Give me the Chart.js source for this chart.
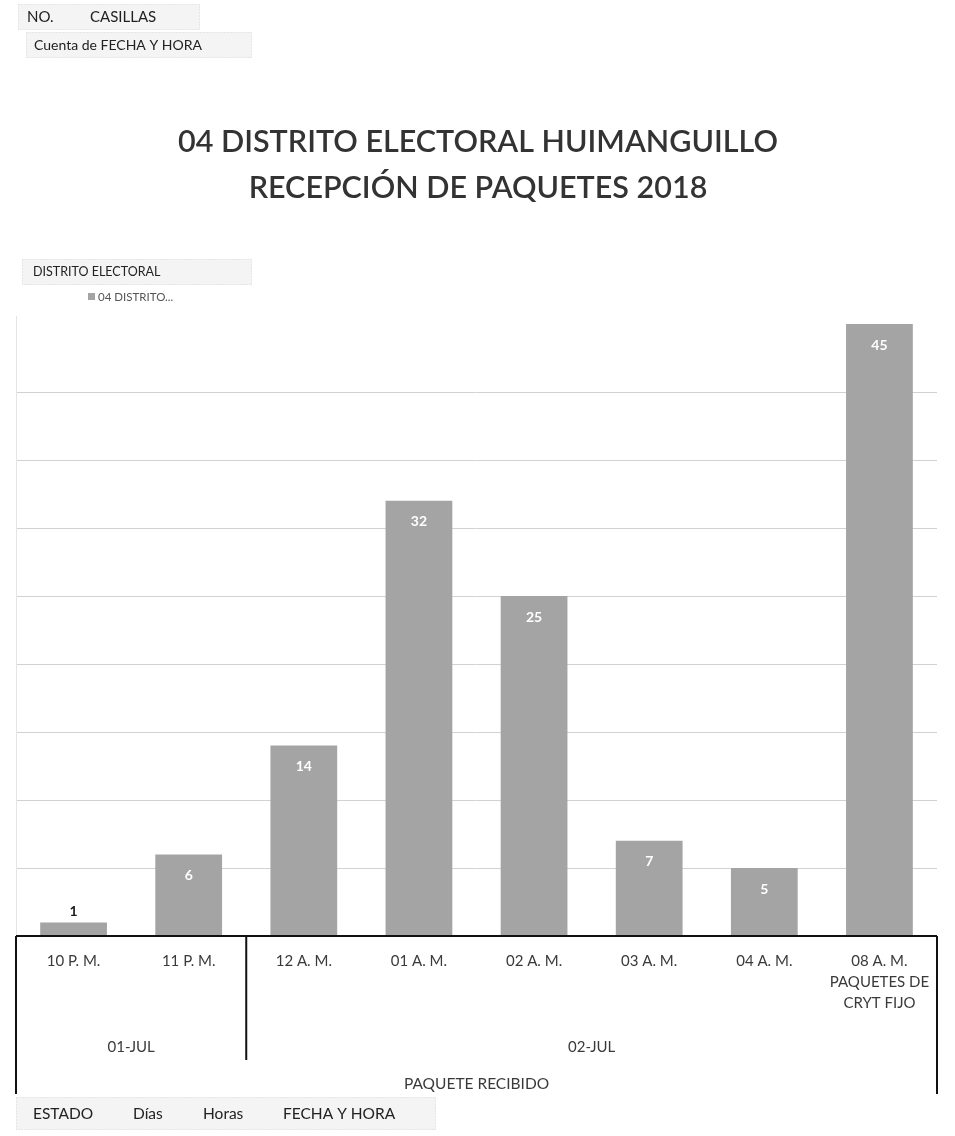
<!DOCTYPE html>
<html><head><meta charset="utf-8">
<script src="https://cdn.jsdelivr.net/npm/chart.js@4"></script>
<style>html,body{margin:0;padding:0;background:#fff}canvas{display:block}</style>
</head><body>
<canvas id="c" width="955" height="1136"></canvas>
<script>
// ---- data ----
const horas = ['10 P. M.', '11 P. M.', '12 A. M.', '01 A. M.', '02 A. M.', '03 A. M.', '04 A. M.', ['08 A. M.', 'PAQUETES DE', 'CRYT FIJO']];
const dias = ['01-JUL', '02-JUL'];
const diasSpan = [2, 6];
const casillas = [1, 6, 14, 32, 25, 7, 5, 45];
const serieNombre = '04 DISTRITO...';
const titulo = ['04 DISTRITO ELECTORAL HUIMANGUILLO', 'RECEPCIÓN DE PAQUETES 2018'];
const ejeXTitulo = 'PAQUETE RECIBIDO';
const filtroArriba = ['NO.', 'CASILLAS'];
const valorCampo = 'Cuenta de FECHA Y HORA';
const leyendaCampo = 'DISTRITO ELECTORAL';
const camposEje = ['ESTADO', 'Días', 'Horas', 'FECHA Y HORA'];

const FONT = 'Lato, "Open Sans", sans-serif';
const TXT = '#3a3a3a';
const BAR = '#a4a4a4';

function button(ctx, x, y, w, h) {
  ctx.save();
  ctx.fillStyle = '#f4f4f4';
  ctx.fillRect(x, y, w, h);
  ctx.strokeStyle = '#d8d8d8';
  ctx.setLineDash([1, 2]);
  ctx.lineWidth = 1;
  ctx.strokeRect(x + 0.5, y + 0.5, w - 1, h - 1);
  ctx.restore();
}

const decor = {
  id: 'decor',
  beforeDraw(chart) {
    const ctx = chart.ctx;
    ctx.save();
    button(ctx, 18, 4, 182, 26);
    button(ctx, 26, 32, 226, 26);
    button(ctx, 22, 259, 230, 26);
    button(ctx, 16, 1097, 420, 33);
    ctx.restore();
  },
  afterDatasetsDraw(chart) {
    const ctx = chart.ctx;
    const x = chart.scales.x, ca = chart.chartArea;
    const meta = chart.getDatasetMeta(0);
    ctx.save();
    // data labels
    ctx.textAlign = 'center';
    ctx.textBaseline = 'middle';
    meta.data.forEach((bar, i) => {
      const v = casillas[i];
      const h = bar.base - bar.y;
      ctx.font = 'bold 14px ' + FONT;
      if (h < 26) {
        ctx.fillStyle = '#1a1a1a';
        ctx.fillText(String(v), bar.x, bar.y - 11);
      } else {
        ctx.fillStyle = '#ffffff';
        ctx.fillText(String(v), bar.x, bar.y + 21);
      }
    });
    // faint left plot edge
    ctx.strokeStyle = '#e4e4e4';
    ctx.lineWidth = 1;
    ctx.beginPath(); ctx.moveTo(ca.left + 0.5, ca.top + 60); ctx.lineTo(ca.left + 0.5, ca.bottom); ctx.stroke();
    // axis frame
    ctx.strokeStyle = '#111';
    ctx.lineWidth = 2;
    ctx.beginPath();
    ctx.moveTo(ca.left, ca.bottom); ctx.lineTo(ca.right, ca.bottom);
    ctx.moveTo(ca.left, ca.bottom); ctx.lineTo(ca.left, ca.bottom + 158);
    ctx.moveTo(ca.right, ca.bottom); ctx.lineTo(ca.right, ca.bottom + 158);
    const half = (x.getPixelForValue(1) - x.getPixelForValue(0)) / 2;
    let start = 0;
    const groupBounds = [];
    diasSpan.forEach((n, g) => {
      const l = x.getPixelForValue(start) - half;
      const r = x.getPixelForValue(start + n - 1) + half;
      groupBounds.push([l, r]);
      if (g > 0) { ctx.moveTo(l, ca.bottom); ctx.lineTo(l, ca.bottom + 124); }
      start += n;
    });
    ctx.stroke();
    // group labels
    ctx.fillStyle = TXT;
    ctx.font = '15px ' + FONT;
    dias.forEach((d, g) => {
      const [l, r] = groupBounds[g];
      ctx.fillText(d, (l + r) / 2, ca.bottom + 111);
    });
    ctx.font = '15.5px ' + FONT;
    ctx.fillText(ejeXTitulo, (ca.left + ca.right) / 2, ca.bottom + 148);
    // title
    ctx.fillStyle = '#333';
    ctx.font = '600 30.5px ' + FONT;
    ctx.fillText(titulo[0], 478, 142);
    ctx.fillText(titulo[1], 478, 188);
    // top field buttons text
    ctx.textAlign = 'left';
    ctx.fillStyle = '#222';
    ctx.font = '15px ' + FONT;
    ctx.fillText(filtroArriba[0], 27, 17);
    ctx.fillText(filtroArriba[1], 90, 17);
    ctx.font = '14px ' + FONT;
    ctx.fillText(valorCampo, 34, 45);
    ctx.font = '12.5px ' + FONT;
    ctx.fillText(leyendaCampo, 33, 272);
    // legend
    ctx.fillStyle = BAR;
    ctx.fillRect(88, 293, 7, 7);
    ctx.fillStyle = '#555';
    ctx.font = '11.5px ' + FONT;
    ctx.fillText(serieNombre, 98, 297);
    // bottom field buttons
    ctx.fillStyle = '#222';
    ctx.font = '15.5px ' + FONT;
    const bx = [33, 133, 203, 283];
    camposEje.forEach((t, i) => ctx.fillText(t, bx[i], 1114));
    ctx.restore();
  }
};

new Chart(document.getElementById('c'), {
  type: 'bar',
  data: {
    labels: horas,
    datasets: [{
      label: serieNombre,
      data: casillas,
      backgroundColor: BAR,
      borderWidth: 0,
      barPercentage: 0.58,
      categoryPercentage: 1
    }]
  },
  options: {
    responsive: false,
    animation: false,
    devicePixelRatio: 1,
    layout: { padding: { left: 16, right: 18, top: 256, bottom: 0 } },
    plugins: { legend: { display: false }, title: { display: false }, tooltip: { enabled: false } },
    scales: {
      x: {
        grid: { display: false, drawTicks: false },
        border: { display: false },
        ticks: {
          autoSkip: false, maxRotation: 0, minRotation: 0, padding: 15,
          color: TXT,
          font: { family: FONT, size: 15, lineHeight: 1.38 }
        },
        afterFit(s) { s.height = 200; }
      },
      y: {
        min: 0, max: 50,
        border: { display: false },
        grid: {
          drawTicks: false,
          color: c => (c.tick.value === 0 || c.tick.value >= 45) ? 'rgba(0,0,0,0)' : '#d2d2d2',
          lineWidth: 1
        },
        ticks: { display: false, stepSize: 5 },
        afterFit(s) { s.width = 0; }
      }
    }
  },
  plugins: [decor]
});
</script>
</body></html>
